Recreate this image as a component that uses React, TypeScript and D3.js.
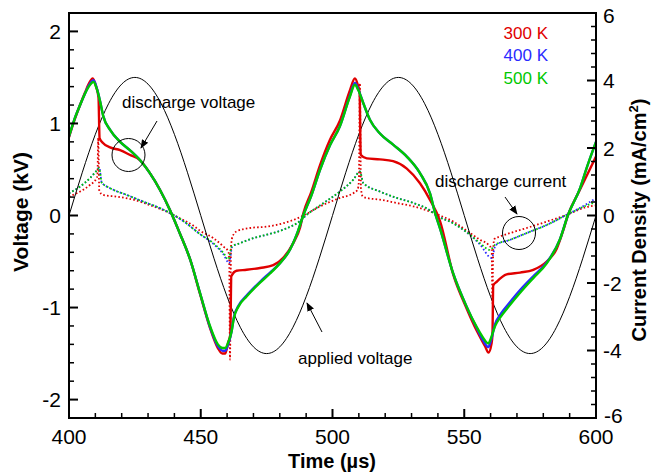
import React from 'react';
import * as d3 from 'd3';

const W = 654;
const H = 475;
const FRAME = { left: 69, right: 596, top: 13, bottom: 418 };
const FONT = 'Liberation Sans, Arial, Helvetica, sans-serif';

// Axis ticks
const timeTicks = [400, 450, 500, 550, 600];
const voltTicks = [-2, -1, 0, 1, 2];
const currTicks = [-6, -4, -2, 0, 2, 4, 6];

// Applied voltage (kV), sampled every 5 µs
const appliedT = [400, 405, 410, 415, 420, 425, 430, 435, 440, 445, 450, 455, 460, 465, 470, 475, 480, 485, 490, 495, 500,
  505, 510, 515, 520, 525, 530, 535, 540, 545, 550, 555, 560, 565, 570, 575, 580, 585, 590, 595, 600];
const appliedV = [0, 0.464, 0.882, 1.214, 1.427, 1.5, 1.427, 1.214, 0.882, 0.464, 0, -0.464, -0.882, -1.214, -1.427, -1.5, -1.427, -1.214, -0.882, -0.464, 0,
  0.464, 0.882, 1.214, 1.427, 1.5, 1.427, 1.214, 0.882, 0.464, 0, -0.464, -0.882, -1.214, -1.427, -1.5, -1.427, -1.214, -0.882, -0.464, 0];

// Discharge (gap) voltage, kV: [time µs, value]
const gap300: [number, number][] = [
  [400, 0.85], [402, 1.03], [404.2, 1.2], [406, 1.33], [407.5, 1.43], [409, 1.49], [410.3, 1.4], [411.2, 1.28], [411.6, 0.84],
  [412.8, 0.79], [415.6, 0.74], [419.4, 0.71], [423, 0.66], [427, 0.6], [430.7, 0.46], [434.5, 0.28], [438.3, 0.06], [442, -0.19],
  [446, -0.48], [449.7, -0.85], [453.5, -1.22], [456.5, -1.44], [458.2, -1.5], [459.3, -1.5], [460.5, -1.37], [461.2, -1.3],
  [461.6, -0.66], [463.6, -0.6], [467.4, -0.59], [472.5, -0.57], [477.5, -0.54], [481.3, -0.46], [485.1, -0.3], [487.7, -0.13],
  [488.9, 0.02], [492, 0.26], [495.3, 0.55], [499, 0.82], [502.8, 1.03], [506.6, 1.36], [508.5, 1.49], [509.6, 1.42], [510.3, 1.33],
  [510.7, 0.66], [513, 0.62], [518, 0.61], [523, 0.59], [528.2, 0.51], [533.2, 0.35], [537, 0.17], [540.8, -0.06], [545.8, -0.64],
  [550.9, -1.01], [554.7, -1.25], [557.9, -1.42], [559.2, -1.49], [560.3, -1.4], [560.7, -1.3], [561, -0.76], [562.3, -0.72],
  [566.1, -0.64], [571.2, -0.62], [576.2, -0.59], [581.3, -0.5], [585.1, -0.36], [587.6, -0.16], [589.3, 0], [593.9, 0.28], [600, 0.64],
];
const gap400: [number, number][] = [
  [400, 0.86], [402, 1.04], [404.2, 1.2], [406, 1.32], [407.5, 1.41], [409.3, 1.47], [410.5, 1.39], [411.8, 1.24], [413, 1.08],
  [415.6, 0.93], [419.4, 0.8], [423.1, 0.71], [427, 0.6], [430.7, 0.46], [434.5, 0.28], [438.3, 0.06], [442, -0.19], [446, -0.48],
  [449.7, -0.84], [453.5, -1.21], [456.5, -1.42], [458.3, -1.47], [459.3, -1.47], [460.4, -1.4], [461.7, -1.26], [462.6, -1.1],
  [464.3, -0.98], [467.4, -0.87], [472.5, -0.72], [476.3, -0.62], [480, -0.52], [483.9, -0.37], [486.5, -0.2], [488.9, 0],
  [492, 0.22], [495.3, 0.5], [499, 0.76], [502.8, 0.97], [506.6, 1.3], [508.5, 1.44], [509.8, 1.37], [511.7, 1.22], [514.2, 1.04],
  [518, 0.89], [523, 0.77], [528.2, 0.64], [533.2, 0.46], [537, 0.24], [539, 0.02], [540.8, -0.14], [545.8, -0.63], [550.9, -0.99],
  [554.7, -1.22], [557.2, -1.36], [559.1, -1.43], [560.4, -1.33], [561.7, -1.18], [563.6, -1.08], [567.4, -0.94], [571.2, -0.81],
  [576.2, -0.66], [581.3, -0.51], [586.3, -0.26], [589.3, 0], [594, 0.3], [596.5, 0.52], [600, 0.8],
];
const gap500: [number, number][] = [
  [400, 0.86], [402, 1.04], [404.2, 1.2], [406, 1.32], [407.5, 1.4], [409.3, 1.45], [410.5, 1.38], [411.8, 1.24], [413, 1.08],
  [415.6, 0.93], [419.4, 0.8], [423.1, 0.71], [427, 0.6], [430.7, 0.46], [434.5, 0.28], [438.3, 0.06], [442, -0.19], [446, -0.48],
  [449.7, -0.84], [453.5, -1.2], [456.5, -1.4], [458.3, -1.44], [459.3, -1.44], [460.4, -1.38], [461.7, -1.26], [462.6, -1.11],
  [464.3, -0.99], [467.4, -0.88], [472.5, -0.73], [476.3, -0.63], [480, -0.52], [483.9, -0.37], [486.5, -0.2], [488.9, 0],
  [492, 0.22], [495.3, 0.5], [499, 0.76], [502.8, 0.97], [506.6, 1.29], [508.5, 1.42], [509.8, 1.36], [511.7, 1.22], [514.2, 1.04],
  [518, 0.89], [523, 0.77], [528.2, 0.64], [533.2, 0.46], [537, 0.24], [539, 0.02], [540.8, -0.14], [545.8, -0.63], [550.9, -0.99],
  [554.7, -1.21], [557.2, -1.33], [559.1, -1.39], [560.4, -1.31], [561.7, -1.2], [563.6, -1.11], [567.4, -0.97], [571.2, -0.84],
  [576.2, -0.68], [581.3, -0.52], [586.3, -0.26], [589.3, 0], [594, 0.3], [596.5, 0.52], [600, 0.8],
];

// Discharge current density, mA/cm²: [time µs, value]
const cur300: [number, number][] = [
  [400, 0.56], [404.2, 0.71], [408, 0.91], [410.5, 1.11], [410.8, 1.2], [411.1, 2.3], [411.5, 0.72], [413, 0.61], [418.1, 0.56],
  [424.4, 0.47], [432, 0.27], [438.3, 0.07], [442, -0.08], [447.2, -0.3], [449.7, -0.45], [454.8, -0.67], [458.6, -0.92],
  [460.5, -1.07], [460.8, -1.3], [461.1, -4.27], [461.5, -0.9], [462.1, -0.62], [463.6, -0.47], [468.7, -0.37], [475, -0.33],
  [481.3, -0.23], [487.7, -0.05], [490.2, 0.05], [495.3, 0.27], [502.8, 0.52], [507.9, 0.66], [509.5, 0.76], [510, 1.0],
  [510.4, 3.92], [510.8, 0.8], [511.5, 0.56], [513, 0.52], [518, 0.47], [524.4, 0.37], [530.7, 0.27], [537, 0.12], [540.8, 0],
  [545.8, -0.18], [552.2, -0.52], [556, -0.72], [559.2, -0.87], [560.4, -1.0], [560.7, -2.6], [561, -1.0], [561.4, -0.7],
  [563.6, -0.62], [567.4, -0.52], [573.7, -0.37], [581.3, -0.18], [588.9, 0.02], [596.5, 0.25], [600, 0.3],
];
const cur400: [number, number][] = [
  [400, 0.66], [404.2, 0.86], [408, 1.11], [410, 1.29], [411.5, 1.42], [412.4, 0.98], [415.6, 0.81], [421.9, 0.61], [428.2, 0.41],
  [434.5, 0.22], [439.6, 0.02], [444, -0.2], [449.7, -0.55], [454.8, -0.84], [458.6, -1.15], [460.8, -1.41], [461.9, -0.93],
  [464.9, -0.82], [470, -0.67], [475, -0.57], [481.3, -0.42], [487.7, -0.16], [490.2, 0.02], [495.3, 0.3], [502.8, 0.71],
  [507.9, 1.06], [510.4, 1.31], [511.7, 0.96], [518, 0.71], [524.4, 0.52], [530.7, 0.37], [537, 0.15], [539.5, 0], [545.8, -0.23],
  [552.2, -0.58], [556, -0.86], [560.4, -1.26], [561.9, -0.88], [567.4, -0.72], [573.7, -0.52], [581.3, -0.28], [588.9, 0.02],
  [596.5, 0.34], [600, 0.52],
];
const cur500: [number, number][] = [
  [400, 0.66], [404.2, 0.86], [408, 1.11], [410, 1.28], [411.5, 1.4], [412.4, 0.98], [415.6, 0.81], [421.9, 0.61], [428.2, 0.41],
  [434.5, 0.22], [439.6, 0.02], [444, -0.2], [449.7, -0.55], [454.8, -0.82], [458.6, -1.11], [460.5, -1.3], [461.7, -0.92],
  [464.9, -0.82], [470, -0.67], [475, -0.57], [481.3, -0.42], [487.7, -0.16], [490.2, 0.02], [495.3, 0.3], [502.8, 0.71],
  [507.9, 1.06], [510.4, 1.3], [511.7, 0.96], [518, 0.71], [524.4, 0.52], [530.7, 0.37], [537, 0.15], [539.5, 0], [545.8, -0.23],
  [552.2, -0.57], [556, -0.82], [559.8, -1.02], [561.7, -0.87], [567.4, -0.72], [573.7, -0.52], [581.3, -0.28], [588.9, 0.02],
  [596.5, 0.3], [600, 0.4],
];

const legendLabels = ['300 K', '400 K', '500 K'];
const seriesColors = ['#e00000', '#2a2aff', '#00c800'];

export default function App() {
  const x = d3.scaleLinear().domain([400, 600]).range([FRAME.left, FRAME.right]);
  const yV = d3.scaleLinear().domain([-2.2, 2.2]).range([FRAME.bottom, FRAME.top]);
  const yJ = d3.scaleLinear().domain([-6, 6]).range([FRAME.bottom, FRAME.top]);

  const lineV = d3.line<[number, number]>().x((d) => x(d[0])).y((d) => yV(d[1])).curve(d3.curveMonotoneX);
  const lineJ = d3.line<[number, number]>().x((d) => x(d[0])).y((d) => yJ(d[1])).curve(d3.curveMonotoneX);
  const appliedPts = appliedT.map((t, i) => [t, appliedV[i]] as [number, number]);
  const appliedLine = d3.line<[number, number]>().x((d) => x(d[0])).y((d) => yV(d[1])).curve(d3.curveNatural);

  const xMinor = d3.range(400, 600.01, 10).filter((v) => !timeTicks.includes(Math.round(v)));
  const vMinor = d3.range(-2.2, 2.201, 0.2).map((v) => Math.round(v * 10) / 10).filter((v) => !voltTicks.includes(v));
  const jMinor = d3.range(-6, 6.01, 0.4).map((v) => Math.round(v * 10) / 10).filter((v) => !currTicks.includes(v));

  const gaps = [gap300, gap400, gap500];
  const currents = [cur300, cur400, cur500];

  const major = 9;
  const minor = 5;

  return (
    <svg width={W} height={H} style={{ position: 'absolute', left: 0, top: 0, background: '#fff' }} fontFamily={FONT}>
      <defs>
        <clipPath id="plot">
          <rect x={FRAME.left} y={FRAME.top} width={FRAME.right - FRAME.left} height={FRAME.bottom - FRAME.top} />
        </clipPath>
        <marker id="head" viewBox="0 0 10 10" refX="9" refY="5" markerWidth="9" markerHeight="9" markerUnits="userSpaceOnUse" orient="auto">
          <path d="M0,1 L10,5 L0,9 Z" fill="#000" />
        </marker>
      </defs>

      <g clipPath="url(#plot)">
        {/* discharge current, dotted */}
        {currents.map((c, i) => (
          <path key={'c' + i} d={lineJ(c) ?? ''} fill="none" stroke={seriesColors[i]} strokeWidth={1.8} strokeDasharray="1.6 2.2" />
        ))}
        {/* applied voltage */}
        <path d={appliedLine(appliedPts) ?? ''} fill="none" stroke="#000" strokeWidth={1} />
        {/* discharge voltage */}
        {gaps.map((g, i) => (
          <path key={'g' + i} d={lineV(g) ?? ''} fill="none" stroke={seriesColors[i]} strokeWidth={2.4} strokeLinejoin="round" />
        ))}
      </g>

      {/* frame */}
      <rect x={FRAME.left} y={FRAME.top} width={FRAME.right - FRAME.left} height={FRAME.bottom - FRAME.top} fill="none" stroke="#000" strokeWidth={2} />

      {/* bottom axis */}
      {timeTicks.map((t) => (
        <g key={'xt' + t}>
          <line x1={x(t)} x2={x(t)} y1={FRAME.bottom} y2={FRAME.bottom - major} stroke="#000" strokeWidth={2} />
          <text x={x(t)} y={444} fontSize={21} textAnchor="middle">{t}</text>
        </g>
      ))}
      {xMinor.map((t) => (
        <line key={'xm' + t} x1={x(t)} x2={x(t)} y1={FRAME.bottom} y2={FRAME.bottom - minor} stroke="#000" strokeWidth={1.5} />
      ))}

      {/* left axis */}
      {voltTicks.map((v) => (
        <g key={'yv' + v}>
          <line x1={FRAME.left} x2={FRAME.left + major} y1={yV(v)} y2={yV(v)} stroke="#000" strokeWidth={2} />
          <text x={61} y={yV(v)} dy="0.36em" fontSize={21} textAnchor="end">{v}</text>
        </g>
      ))}
      {vMinor.map((v) => (
        <line key={'vm' + v} x1={FRAME.left} x2={FRAME.left + minor} y1={yV(v)} y2={yV(v)} stroke="#000" strokeWidth={1.5} />
      ))}

      {/* right axis */}
      {currTicks.map((v) => (
        <g key={'yj' + v}>
          <line x1={FRAME.right} x2={FRAME.right - major} y1={yJ(v)} y2={yJ(v)} stroke="#000" strokeWidth={2} />
          <text x={v === -6 ? 604 : 603} y={yJ(v) + (v === -6 ? -3 : v === 6 ? 2 : 0)} dy="0.36em" fontSize={21} textAnchor="start">{v}</text>
        </g>
      ))}
      {jMinor.map((v) => (
        <line key={'jm' + v} x1={FRAME.right} x2={FRAME.right - minor} y1={yJ(v)} y2={yJ(v)} stroke="#000" strokeWidth={1.5} />
      ))}

      {/* axis titles */}
      <text x={332} y={468} fontSize={20} fontWeight="bold" textAnchor="middle">Time (µs)</text>
      <text transform="translate(28,212) rotate(-90)" fontSize={21} fontWeight="bold" textAnchor="middle">Voltage (kV)</text>
      <text transform="translate(646,220) rotate(-90)" fontSize={20} fontWeight="bold" textAnchor="middle">
        Current Density (mA/cm<tspan fontSize={13} dy="-8">2</tspan><tspan dy="8">)</tspan>
      </text>

      {/* legend */}
      {legendLabels.map((l, i) => (
        <text key={l} x={548} y={39 + i * 22.3} fontSize={17} textAnchor="end" fill={seriesColors[i]}>{l}</text>
      ))}

      {/* annotations */}
      <text x={122} y={108} fontSize={17}>discharge voltage</text>
      <line x1={157} y1={121} x2={141} y2={148} stroke="#000" strokeWidth={1} markerEnd="url(#head)" />
      <circle cx={128.5} cy={155} r={16.5} fill="none" stroke="#000" strokeWidth={1} />

      <text x={435} y={187} fontSize={17}>discharge current</text>
      <line x1={505} y1={197} x2={517} y2={214} stroke="#000" strokeWidth={1} markerEnd="url(#head)" />
      <circle cx={519} cy={233} r={16.5} fill="none" stroke="#000" strokeWidth={1} />

      <text x={298} y={364} fontSize={17}>applied voltage</text>
      <line x1={322} y1={332} x2={307} y2={303} stroke="#000" strokeWidth={1} markerEnd="url(#head)" />
    </svg>
  );
}
